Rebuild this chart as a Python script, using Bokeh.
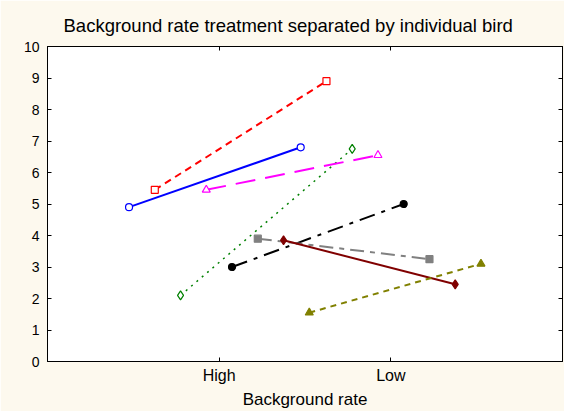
from bokeh.plotting import figure
from bokeh.models import LinearAxis, FixedTicker, Range1d
from bokeh.embed import file_html
from bokeh.resources import INLINE

# Data
categories = ["High", "Low"]
birds = ["b1", "b2", "b3", "b4", "b5", "b6", "b7", "b8"]
high_rate = [4.9, 5.45, 2.1, 5.45, 3.0, 3.9, 3.85, 1.55]
low_rate = [6.8, 8.9, 6.75, 6.55, 5.0, 3.25, 2.45, 3.1]
jitter = [-0.525, -0.375, -0.225, -0.075, 0.075, 0.225, 0.375, 0.525]
y_ticks = list(range(0, 11))
title_text = "Background rate treatment separated by individual bird"

colors = ["#0000FF", "#FF0000", "#008000", "#FF00FF", "#000000", "#808080", "#800000", "#808000"]
markers = ["circle", "square", "diamond", "triangle", "circle", "square", "diamond", "triangle"]
filled = [False, False, False, False, True, True, True, True]
dashes = ["solid", "7 5", "2 5", "20 10", "16 7 4 7", "14 6 5 6", "solid", "6 5"]
widths = [2, 2, 1.5, 2, 2, 2, 2, 2]
sizes = [7, 7, 9, 8, 7, 7, 9, 8]

FONT = "Liberation Sans"
CREAM = "#FDF9EE"

p = figure(width=564, height=411, output_backend="svg", toolbar_location=None,
           x_range=Range1d(0, 3), y_range=Range1d(0, 10),
           min_border_left=47, min_border_right=2, min_border_top=46, min_border_bottom=48,
           background_fill_color="white", border_fill_color=CREAM)

p.title.text = title_text
p.title.align = "left"
p.title.offset = 16
p.title.standoff = 22
p.title.text_font = FONT
p.title.text_font_size = "18.5px"
p.title.text_font_style = "normal"
p.title.text_color = "black"

p.xgrid.visible = False
p.ygrid.visible = False
p.outline_line_color = "black"
p.outline_line_width = 1

xpos = [1, 2]
for i in range(len(birds)):
    xs = [xpos[0] + jitter[i], xpos[1] + jitter[i]]
    ys = [high_rate[i], low_rate[i]]
    p.line(xs, ys, line_color=colors[i], line_width=widths[i], line_dash=dashes[i])
    p.scatter(xs, ys, marker=markers[i], size=sizes[i], line_color=colors[i], line_width=1.2,
              fill_color=colors[i] if filled[i] else "white")

# Axes
xa = p.xaxis[0]
xa.ticker = FixedTicker(ticks=xpos)
xa.major_label_overrides = {xpos[0]: categories[0], xpos[1]: categories[1]}
xa.axis_label = "Background rate"
ya = p.yaxis[0]
ya.ticker = FixedTicker(ticks=y_ticks)

for ax in (xa, ya):
    ax.major_tick_in = 4
    ax.major_tick_out = 0
    ax.minor_tick_line_color = None
    ax.axis_line_color = "black"
    ax.major_tick_line_color = "black"
    ax.major_label_text_font = FONT
    ax.major_label_text_color = "black"
    ax.axis_label_text_font = FONT
    ax.axis_label_text_font_style = "normal"
    ax.axis_label_text_font_size = "17px"
    ax.axis_label_text_color = "black"

xa.major_label_text_font_size = "16px"
xa.major_label_standoff = 5
xa.axis_label_standoff = 3
ya.major_label_text_font_size = "14px"
ya.major_label_standoff = 8

top = LinearAxis(ticker=FixedTicker(ticks=xpos),
                 major_label_overrides={xpos[0]: "", xpos[1]: ""},
                 major_tick_in=4, major_tick_out=0, minor_tick_line_color=None,
                 axis_line_color="black", major_label_standoff=0)
p.add_layout(top, "above")
right = LinearAxis(ticker=FixedTicker(ticks=y_ticks),
                   major_label_overrides={t: "" for t in y_ticks},
                   major_tick_in=4, major_tick_out=0, minor_tick_line_color=None,
                   axis_line_color="black", major_label_standoff=0)
p.add_layout(right, "right")

open("out.html", "w").write(file_html(p, INLINE))
